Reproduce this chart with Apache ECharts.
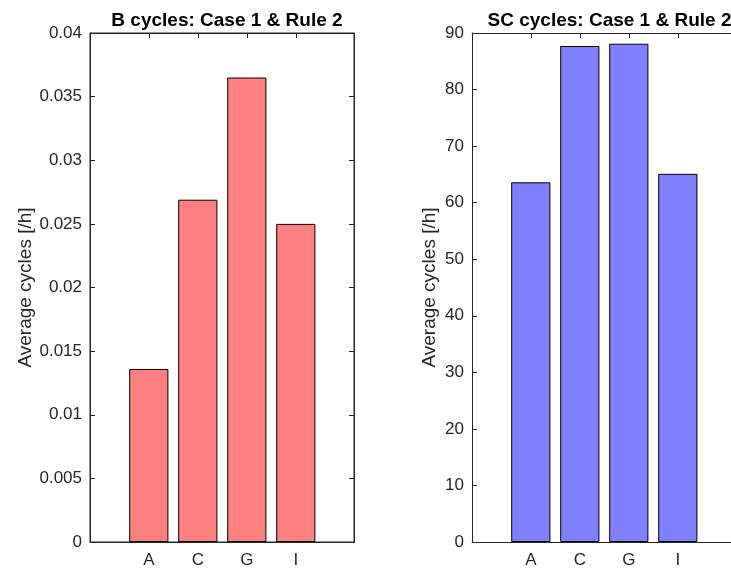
<!DOCTYPE html>
<html>
<head>
<meta charset="utf-8">
<script src="https://cdn.jsdelivr.net/npm/echarts@6/dist/echarts.min.js"></script>
<style>
  html, body { margin: 0; padding: 0; background: #fff; }
  #chart { width: 731px; height: 573px; }
</style>
</head>
<body>
<div id="chart"></div>
<script>
// Bar categories and their positions on the x axis
const categories = ['A', 'C', 'G', 'I'];
const positions = [1, 2, 3, 4];

// Average cycles per hour
const bCycles = [0.0136, 0.0269, 0.0365, 0.0250];
const scCycles = [63.6, 87.7, 88.1, 65.1];

// Axis ranges
const bTicks = { min: 0, max: 0.04, interval: 0.005 };
const scTicks = { min: 0, max: 90, interval: 10 };
const xMin = -0.2;
const unit = 49;           // pixels per bar slot

const titles = ['B cycles: Case 1 & Rule 2', 'SC cycles: Case 1 & Rule 2'];
const yName = 'Average cycles [/h]';

const axisColor = '#262626';
const font = 'Liberation Sans, Arial, Helvetica, sans-serif';

// the second panel runs past the right edge of the canvas
const grids = [
  { left: 90, top: 33, width: 264, height: 509, border: true, titleWidth: 264 },
  { left: 472, top: 33, width: 259, height: 509, border: false, titleWidth: 265 }
];

const option = {
  animation: false,
  backgroundColor: '#fff',
  title: titles.map((t, i) => ({
    text: t,
    left: grids[i].left + grids[i].titleWidth / 2,
    textAlign: 'center',
    top: 6,
    textStyle: { fontFamily: font, fontSize: 19, fontWeight: 'bold', color: '#000' }
  })),
  grid: grids.map(g => ({
    left: g.left, top: g.top, width: g.width, height: g.height,
    show: g.border, borderColor: axisColor, borderWidth: 1
  })),
  xAxis: grids.flatMap((g, i) => {
    const range = { min: xMin, max: xMin + g.width / unit };
    return [
      {
        type: 'value', gridIndex: i, position: 'bottom', ...range,
        splitLine: { show: false },
        axisLine: { show: true, onZero: false, lineStyle: { color: axisColor, width: 1 } },
        axisTick: { show: true, inside: true, length: 5, customValues: positions, lineStyle: { color: axisColor } },
        axisLabel: {
          show: true, customValues: positions, margin: 10,
          formatter: v => categories[positions.indexOf(Math.round(v))] || '',
          color: axisColor, fontFamily: font, fontSize: 17
        }
      },
      {
        type: 'value', gridIndex: i, position: 'top', ...range,
        splitLine: { show: false },
        axisLine: { show: true, onZero: false, lineStyle: { color: axisColor, width: 1 } },
        axisTick: { show: true, inside: true, length: 5, customValues: positions, lineStyle: { color: axisColor } },
        axisLabel: { show: false }
      }
    ];
  }),
  yAxis: [bTicks, scTicks].flatMap((t, i) => [
    {
      type: 'value', gridIndex: i, position: 'left',
      min: t.min, max: t.max, interval: t.interval,
      name: yName, nameLocation: 'middle', nameGap: i === 0 ? 55 : 33,
      nameTextStyle: { fontFamily: font, fontSize: 19, color: axisColor },
      splitLine: { show: false },
      axisLine: { show: true, onZero: false, lineStyle: { color: axisColor, width: 1 } },
      axisTick: { show: true, inside: true, length: 5, lineStyle: { color: axisColor } },
      axisLabel: { color: axisColor, fontFamily: font, fontSize: 17, margin: 8 }
    },
    {
      type: 'value', gridIndex: i, position: 'right',
      min: t.min, max: t.max, interval: t.interval,
      splitLine: { show: false },
      axisLine: { show: grids[i].border, onZero: false, lineStyle: { color: axisColor, width: 1 } },
      axisTick: { show: grids[i].border, inside: true, length: 5, lineStyle: { color: axisColor } },
      axisLabel: { show: false }
    }
  ]),
  series: [
    {
      type: 'bar', xAxisIndex: 0, yAxisIndex: 0,
      barWidth: 0.8 * unit,
      data: positions.map((p, k) => [p, bCycles[k]]),
      itemStyle: { color: '#ff8080', borderColor: '#000', borderWidth: 1 }
    },
    {
      type: 'bar', xAxisIndex: 2, yAxisIndex: 2,
      barWidth: 0.8 * unit,
      data: positions.map((p, k) => [p, scCycles[k]]),
      itemStyle: { color: '#8080ff', borderColor: '#000', borderWidth: 1 }
    }
  ]
};

const chart = echarts.init(document.getElementById('chart'), null, { renderer: 'canvas' });
chart.setOption(option);
</script>
</body>
</html>
